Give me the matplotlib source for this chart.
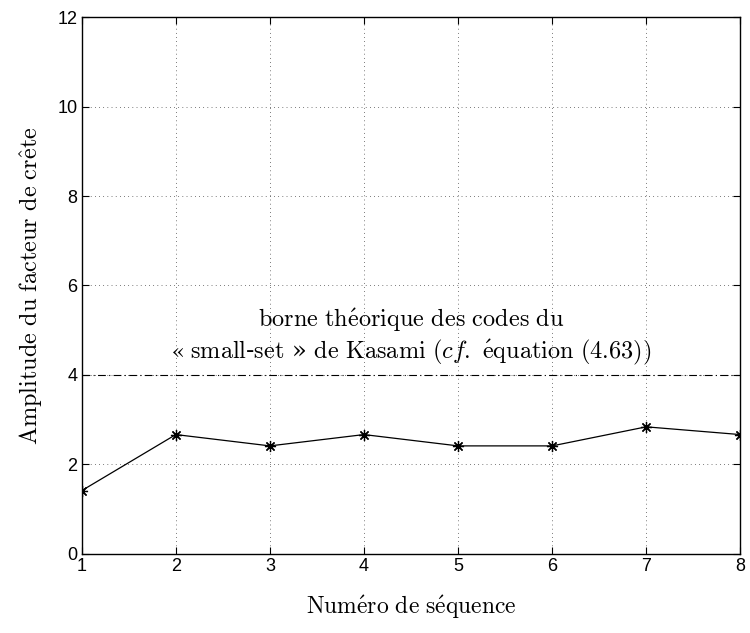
import matplotlib
matplotlib.use("Agg")
import matplotlib.pyplot as plt
import numpy as np

# facteur de crête mesuré pour chaque séquence
sequences = [1, 2, 3, 4, 5, 6, 7, 8]
crest = [1.414, 2.667, 2.414, 2.667, 2.414, 2.414, 2.84, 2.667]
kasami_bound = 4.0

xticks = [1, 2, 3, 4, 5, 6, 7, 8]
yticks = [0, 2, 4, 6, 8, 10, 12]

plt.rcParams['mathtext.fontset'] = 'cm'


def rm(s):
    # texte romain en mathtext (Computer Modern)
    return r"$\mathrm{" + s.replace(" ", r"\ ") + "}$"


fig = plt.figure(figsize=(7.5, 6.33), dpi=100)
ax = fig.add_axes([0.109, 0.125, 0.878, 0.848])

ax.plot(sequences, crest, color='black', lw=0.9, marker=(8, 2, 0), ms=8,
        markeredgewidth=0.9)
ax.axhline(kasami_bound, color='black', lw=0.8, ls=(0, (7, 3, 1, 3)))

line1 = rm(r"borne th\'eorique des codes du")
line2 = (r"$\mathrm{«\ small}$-$\mathrm{set}$ » "
         r"$\mathrm{de\ Kasami\ (}\mathit{cf.}\mathrm{\ \'equation\ (4.63))}$")
ax.text(4.5, 5.23, line1, ha='center', va='center', fontsize=17.5)
ax.text(4.5, 4.5, line2, ha='center', va='center', fontsize=17.5,
        family='DejaVu Serif')

ax.set_xlim(1, 8)
ax.set_ylim(0, 12)
ax.set_xticks(xticks)
ax.set_yticks(yticks)
ax.set_xticklabels([str(v) for v in xticks], family='Liberation Sans', fontsize=13)
ax.set_yticklabels([str(v) for v in yticks], family='Liberation Sans', fontsize=13)
ax.tick_params(direction='in', length=5, width=0.8, pad=3, top=True, right=True)
ax.grid(True, color='black', ls=(0, (1, 5)), lw=0.5)
for s in ax.spines.values():
    s.set_linewidth(1.0)

ax.set_xlabel(rm(r"Num\'ero de s\'equence"), fontsize=17, labelpad=13)
ax.set_ylabel(rm(r"Amplitude du facteur de cr\^ete"), fontsize=17.5, labelpad=10)

fig.savefig("out.png", dpi=100)
